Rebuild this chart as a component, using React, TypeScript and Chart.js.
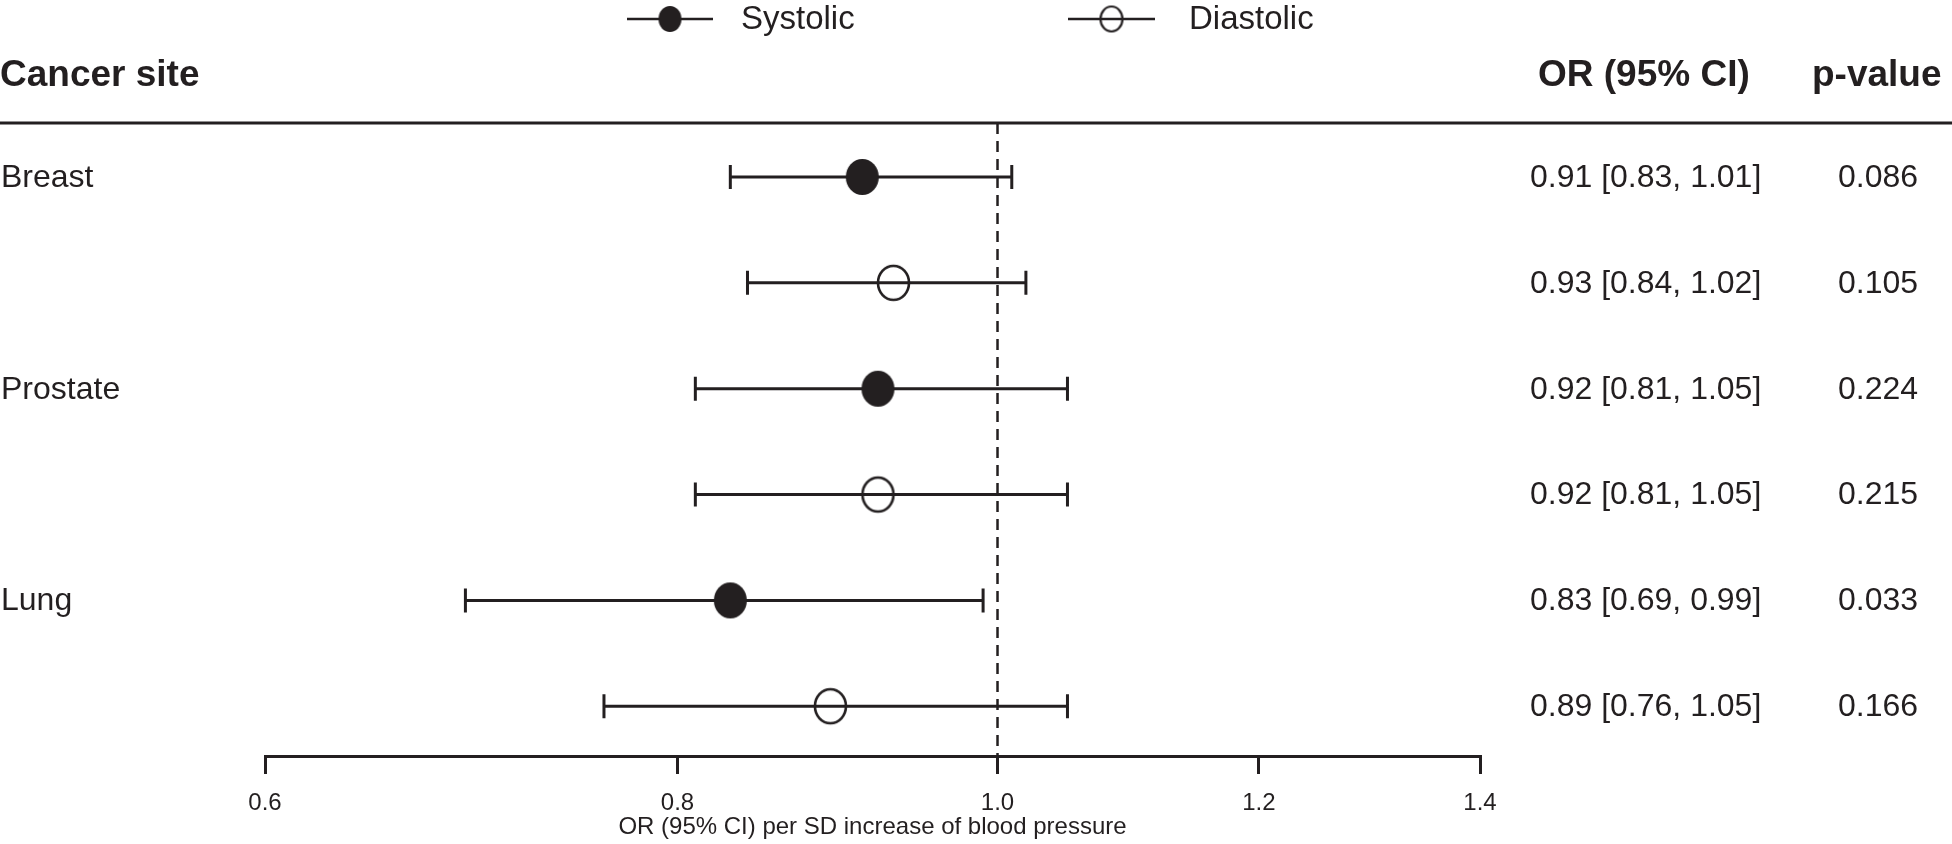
import React, { useEffect, useRef } from 'react';
import { Chart, registerables } from 'chart.js';

Chart.register(...registerables);

// ---------- data ----------
const cancerSites = ['Breast', 'Prostate', 'Lung'];
const seriesNames = ['Systolic', 'Diastolic'];
const systolicOR = [0.91, 0.92, 0.83];
const systolicLower = [0.83, 0.81, 0.69];
const systolicUpper = [1.01, 1.05, 0.99];
const systolicP = ['0.086', '0.224', '0.033'];
const diastolicOR = [0.93, 0.92, 0.89];
const diastolicLower = [0.84, 0.81, 0.76];
const diastolicUpper = [1.02, 1.05, 1.05];
const diastolicP = ['0.105', '0.215', '0.166'];
const xTicks = [0.6, 0.8, 1.0, 1.2, 1.4];
const headerSite = 'Cancer site';
const headerOR = 'OR (95% CI)';
const headerP = 'p-value';
const xTitle = 'OR (95% CI) per SD increase of blood pressure';

// ---------- styles ----------
const INK = '#231f20';
const SANS = "'Liberation Sans', Arial, Helvetica, sans-serif";

function makeEllipse(rx: number, ry: number, filled: boolean, lw: number): HTMLCanvasElement {
  const pad = 3;
  const c = document.createElement('canvas');
  c.width = Math.ceil(2 * rx + 2 * pad);
  c.height = Math.ceil(2 * ry + 2 * pad);
  const g = c.getContext('2d')!;
  g.beginPath();
  g.ellipse(c.width / 2, c.height / 2, rx, ry, 0, 0, Math.PI * 2);
  if (filled) {
    g.fillStyle = INK;
    g.fill();
  } else {
    g.strokeStyle = INK;
    g.lineWidth = lw;
    g.stroke();
  }
  return c;
}

function fmt(v: number) {
  return v.toFixed(2);
}

export default function App() {
  const ref = useRef<HTMLCanvasElement | null>(null);

  useEffect(() => {
    document.body.style.margin = '0';
    const canvas = ref.current!;
    const filledPt = makeEllipse(16.5, 18, true, 0);
    const openPt = makeEllipse(15.5, 17, false, 2.6);
    const filledLeg = makeEllipse(11.5, 13, true, 0);
    const openLeg = makeEllipse(11, 12.5, false, 2.2);

    const rows = cancerSites.map((site, i) => ({
      site,
      sys: { x: systolicOR[i], y: 2 * i, lo: systolicLower[i], hi: systolicUpper[i], p: systolicP[i] },
      dia: { x: diastolicOR[i], y: 2 * i + 1, lo: diastolicLower[i], hi: diastolicUpper[i], p: diastolicP[i] },
    }));

    const forestPlugin = {
      id: 'forest',
      beforeDatasetsDraw(chart: any) {
        const { ctx, chartArea, scales } = chart;
        const x = scales.x;
        const y = scales.y;
        ctx.save();
        // reference line at OR = 1
        const x1 = x.getPixelForValue(1);
        ctx.strokeStyle = INK;
        ctx.lineWidth = 2.5;
        ctx.setLineDash([11, 7]);
        ctx.beginPath();
        ctx.moveTo(x1, chartArea.top);
        ctx.lineTo(x1, chartArea.bottom);
        ctx.stroke();
        ctx.setLineDash([]);
        // error bars
        ctx.lineWidth = 3;
        chart.data.datasets.forEach((ds: any) => {
          ds.data.forEach((d: any) => {
            const yp = y.getPixelForValue(d.y);
            const xl = x.getPixelForValue(d.lo);
            const xh = x.getPixelForValue(d.hi);
            ctx.beginPath();
            ctx.moveTo(xl, yp);
            ctx.lineTo(xh, yp);
            ctx.moveTo(xl, yp - 12);
            ctx.lineTo(xl, yp + 12);
            ctx.moveTo(xh, yp - 12);
            ctx.lineTo(xh, yp + 12);
            ctx.stroke();
          });
        });
        ctx.restore();
      },
      afterDraw(chart: any) {
        const { ctx, chartArea, scales, width } = chart;
        const y = scales.y;
        ctx.save();
        // header line
        ctx.strokeStyle = INK;
        ctx.lineWidth = 3;
        ctx.beginPath();
        ctx.moveTo(0, chartArea.top);
        ctx.lineTo(width, chartArea.top);
        ctx.stroke();
        // headers
        ctx.fillStyle = INK;
        ctx.textBaseline = 'alphabetic';
        ctx.textAlign = 'left';
        ctx.font = `bold 37px ${SANS}`;
        ctx.fillText(headerSite, 0, 86);
        ctx.fillText(headerOR, 1538, 86);
        ctx.fillText(headerP, 1812, 86);
        // rows
        ctx.font = `32px ${SANS}`;
        ctx.textBaseline = 'middle';
        rows.forEach((r) => {
          const ys = y.getPixelForValue(r.sys.y);
          const yd = y.getPixelForValue(r.dia.y);
          ctx.fillText(r.site, 1, ys + 1);
          ctx.fillText(`${fmt(r.sys.x)} [${fmt(r.sys.lo)}, ${fmt(r.sys.hi)}]`, 1530, ys + 1);
          ctx.fillText(`${fmt(r.dia.x)} [${fmt(r.dia.lo)}, ${fmt(r.dia.hi)}]`, 1530, yd + 1);
          ctx.fillText(r.sys.p, 1838, ys + 1);
          ctx.fillText(r.dia.p, 1838, yd + 1);
        });
        // legend
        const legY = 19;
        const items = [
          { name: seriesNames[0], img: filledLeg, x0: 627, x1: 713, tx: 741 },
          { name: seriesNames[1], img: openLeg, x0: 1068, x1: 1155, tx: 1189 },
        ];
        ctx.font = `33px ${SANS}`;
        items.forEach((it) => {
          ctx.lineWidth = 2.5;
          ctx.beginPath();
          ctx.moveTo(it.x0, legY);
          ctx.lineTo(it.x1, legY);
          ctx.stroke();
          const cx = (it.x0 + it.x1) / 2;
          ctx.drawImage(it.img, cx - it.img.width / 2, legY - it.img.height / 2);
          ctx.fillText(it.name, it.tx, legY + 1);
        });
        ctx.restore();
      },
    };

    const chart = new Chart(canvas, {
      type: 'scatter',
      data: {
        datasets: [
          {
            label: seriesNames[0],
            data: rows.map((r) => r.sys) as any,
            pointStyle: filledPt as any,
            pointRadius: 17,
            pointHoverRadius: 17,
          },
          {
            label: seriesNames[1],
            data: rows.map((r) => r.dia) as any,
            pointStyle: openPt as any,
            pointRadius: 17,
            pointHoverRadius: 17,
          },
        ],
      },
      options: {
        animation: false,
        responsive: false,
        devicePixelRatio: 1,
        events: [],
        layout: { autoPadding: false, padding: { left: 265, right: 472, top: 123, bottom: 0 } },
        plugins: { legend: { display: false }, tooltip: { enabled: false } },
        scales: {
          x: {
            type: 'logarithmic',
            min: 0.6,
            max: 1.4,
            afterBuildTicks: (s: any) => {
              s.ticks = xTicks.map((v) => ({ value: v }));
            },
            afterFit: (s: any) => {
              s.height = 88;
            },
            ticks: {
              callback: (v: any) => Number(v).toFixed(1),
              font: { family: SANS, size: 24 },
              color: INK,
              padding: 15,
              maxRotation: 0,
              autoSkip: false,
            },
            grid: {
              display: true,
              drawOnChartArea: false,
              drawTicks: true,
              tickLength: 18,
              tickWidth: 3,
              tickColor: INK,
              lineWidth: 3,
              color: INK,
            },
            border: { display: true, color: INK, width: 3 },
            title: {
              display: true,
              text: xTitle,
              color: INK,
              font: { family: SANS, size: 24 },
              padding: { top: 0, bottom: 2 },
            },
          },
          y: {
            type: 'linear',
            reverse: true,
            min: -0.51,
            max: 5.47,
            display: false,
          },
        },
      } as any,
      plugins: [forestPlugin],
    });
    return () => chart.destroy();
  }, []);

  return (
    <div style={{ width: 1952, height: 844, background: '#fff' }}>
      <canvas ref={ref} width={1952} height={844} style={{ display: 'block' }} />
    </div>
  );
}
